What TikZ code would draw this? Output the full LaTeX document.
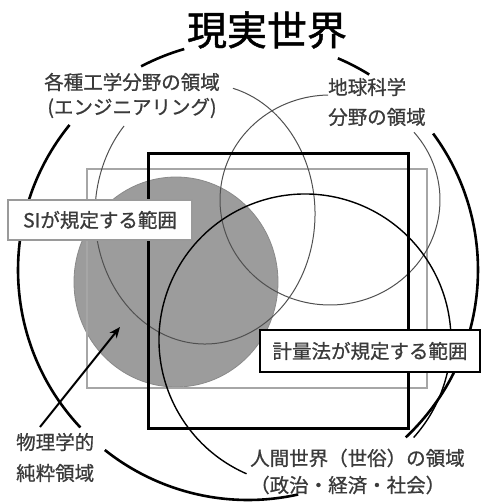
\documentclass[tikz,border=0pt]{standalone}
\usepackage{fontspec}
\setmainfont{Noto Sans CJK JP}
\newfontfamily\lblfont{Noto Sans CJK JP}[FakeBold=0.8]
\newfontfamily\ttlfont{Noto Sans CJK JP}[FakeBold=1.2]
\usetikzlibrary{arrows.meta}
\definecolor{labelgray}{HTML}{3A3A3A}
\definecolor{thingray}{HTML}{505050}
\definecolor{physgray}{HTML}{9C9C9C}
\definecolor{physedge}{HTML}{8A8A8A}
\definecolor{rectgray}{HTML}{A6A6A6}
\definecolor{boxgray}{HTML}{9A9A9A}
\begin{document}
\begin{tikzpicture}[x=1pt,y=-1pt,
  lbl/.style={text=labelgray,font=\lblfont\fontsize{19.5}{22}\selectfont,inner sep=0pt},
  bigline/.style={line width=2.6pt,draw=black},
  thinline/.style={line width=1pt,draw=thingray},
  humanline/.style={line width=1.4pt,draw=black},
  graybox/.style={draw=boxgray,line width=2pt,fill=white,text=labelgray,
    font=\lblfont\fontsize{19.5}{22}\selectfont,inner sep=0pt},
  blackbox/.style={draw=black,line width=2.5pt,fill=white,text=labelgray,
    font=\lblfont\fontsize{19.5}{22}\selectfont,inner sep=0pt},
]
\useasboundingbox (0,0) rectangle (482,504);
% pure physics region
\path[fill=physgray,draw=physedge,line width=0.8pt] (176,282) ellipse[x radius=102,y radius=105];
% SI rectangle
\draw[draw=rectgray,line width=2pt] (87,169) rectangle (427,388);
% engineering region
\draw[thinline] (205,214) ++(284.7:110 and 130) arc[start angle=284.7,end angle=582.6,x radius=110,y radius=130];
% earth science region
\draw[thinline] (330,200) ++(319.8:110 and 105) arc[start angle=319.8,end angle=629,x radius=110,y radius=105];
% human world region
\draw[humanline] (305,340) ++(113.6:146) arc[start angle=113.6,end angle=401.9,radius=146];
% measurement law rectangle
\draw[line width=3pt] (148,153) rectangle (408,428);
% real world circle
\draw[bigline] (248,270) ++(323.6:230) arc[start angle=323.6,end angle=406.7,radius=230];
\draw[bigline] (248,270) ++(77.4:230) arc[start angle=77.4,end angle=128.5,radius=230];
\draw[bigline] (248,270) ++(136.8:230) arc[start angle=136.8,end angle=219.1,radius=230];
\draw[bigline] (248,270) ++(242.3:230) arc[start angle=242.3,end angle=253.9,radius=230];
\draw[bigline] (248,270) ++(293:230) arc[start angle=293,end angle=301.8,radius=230];
% label boxes
\node[graybox,minimum width=184pt,minimum height=40pt] (si) at (100,220) {SIが規定する範囲};
\node[blackbox,minimum width=220pt,minimum height=42pt] (law) at (370,351) {計量法が規定する範囲};
% arrow
\coordinate (arrS) at (40,427);
\coordinate (arrE) at (120,327);
\draw[line width=2pt,-{Stealth[length=11pt,width=9pt]}] (arrS) -- (arrE);
% texts
\node[font=\ttlfont\fontsize{40}{44}\selectfont,inner sep=0pt] (title) at (267,30) {現実世界};
\node[lbl] (eng1) at (132,82) {各種工学分野の領域};
\node[lbl] (eng2) at (132,108) {(エンジニアリング)};
\node[lbl,anchor=west] (geo1) at (328,87) {地球科学};
\node[lbl,anchor=west] (geo2) at (328,117) {分野の領域};
\node[lbl,anchor=west] (phys1) at (16,442) {物理学的};
\node[lbl,anchor=west] (phys2) at (16,473) {純粋領域};
\node[lbl,anchor=west] (hum1) at (250,458) {人間世界（世俗）の領域};
\node[lbl,anchor=west] (hum2) at (250,485) {（政治・経済・社会）};
\end{tikzpicture}
\end{document}
